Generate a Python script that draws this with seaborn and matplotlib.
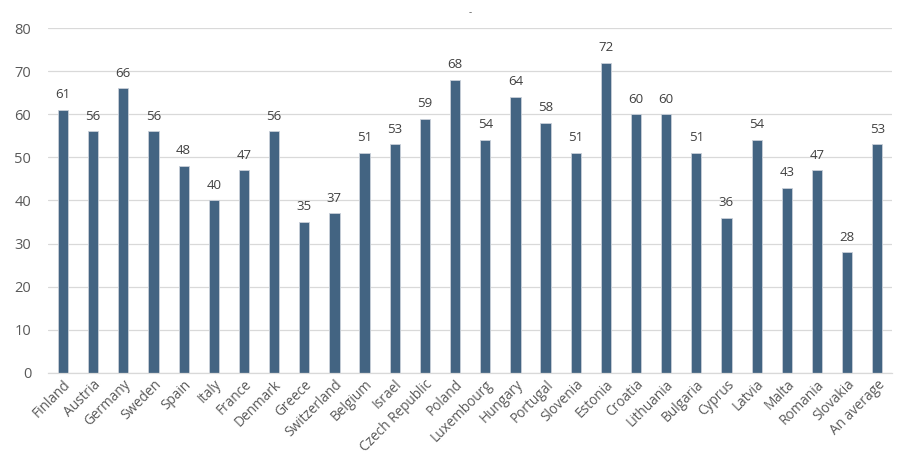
import matplotlib
matplotlib.use('Agg')
from matplotlib import pyplot as plt
import seaborn as sns
import pandas as pd

# データ
countries = ['Finland', 'Austria', 'Germany', 'Sweden', 'Spain', 'Italy', 'France',
             'Denmark', 'Greece', 'Switzerland', 'Belgium', 'Israel', 'Czech Republic',
             'Poland', 'Luxembourg', 'Hungary', 'Portugal', 'Slovenia', 'Estonia',
             'Croatia', 'Lithuania', 'Bulgaria', 'Cyprus', 'Latvia', 'Malta',
             'Romania', 'Slovakia', 'An average']
values = [61, 56, 66, 56, 48, 40, 47, 56, 35, 37, 51, 53, 59, 68, 54, 64, 58, 51,
          72, 60, 60, 51, 36, 54, 43, 47, 28, 53]
y_ticks = [0, 10, 20, 30, 40, 50, 60, 70, 80]

df = pd.DataFrame({'country': countries, 'value': values})

sns.set_style('white')
plt.rcParams['font.family'] = ['Open Sans', 'DejaVu Sans']

fig = plt.figure(figsize=(9.05, 4.75), dpi=100)
ax = fig.add_axes([0.053, 0.215, 0.933, 0.726])

sns.barplot(data=df, x='country', y='value', color='#436482', saturation=1,
            width=0.34, edgecolor='#c9d0d9', linewidth=0.6, ax=ax)

# 値ラベル
for i, v in enumerate(values):
    ax.text(i, v + 2.0, str(v), ha='center', va='bottom', fontsize=9.5, color='#404040')

ax.set_ylim(0, 80)
ax.set_yticks(y_ticks)
ax.yaxis.grid(True, color='#d9d9d9', linewidth=0.9)
ax.set_axisbelow(True)
for side in ['top', 'right', 'left']:
    ax.spines[side].set_visible(False)
ax.spines['bottom'].set_color('#d9d9d9')
ax.spines['bottom'].set_linewidth(0.9)

ax.tick_params(axis='y', length=0, labelsize=10.5, labelcolor='#595959', pad=12)
ax.tick_params(axis='x', length=0, labelsize=9.8, labelcolor='#595959', pad=3)
plt.setp(ax.get_xticklabels(), rotation=45, ha='right', rotation_mode='anchor')
ax.set_xlabel('')
ax.set_ylabel('')

fig.text(0.52, 0.985, '-', ha='center', va='top', fontsize=7, color='#595959')

fig.savefig('out.png', dpi=100)
